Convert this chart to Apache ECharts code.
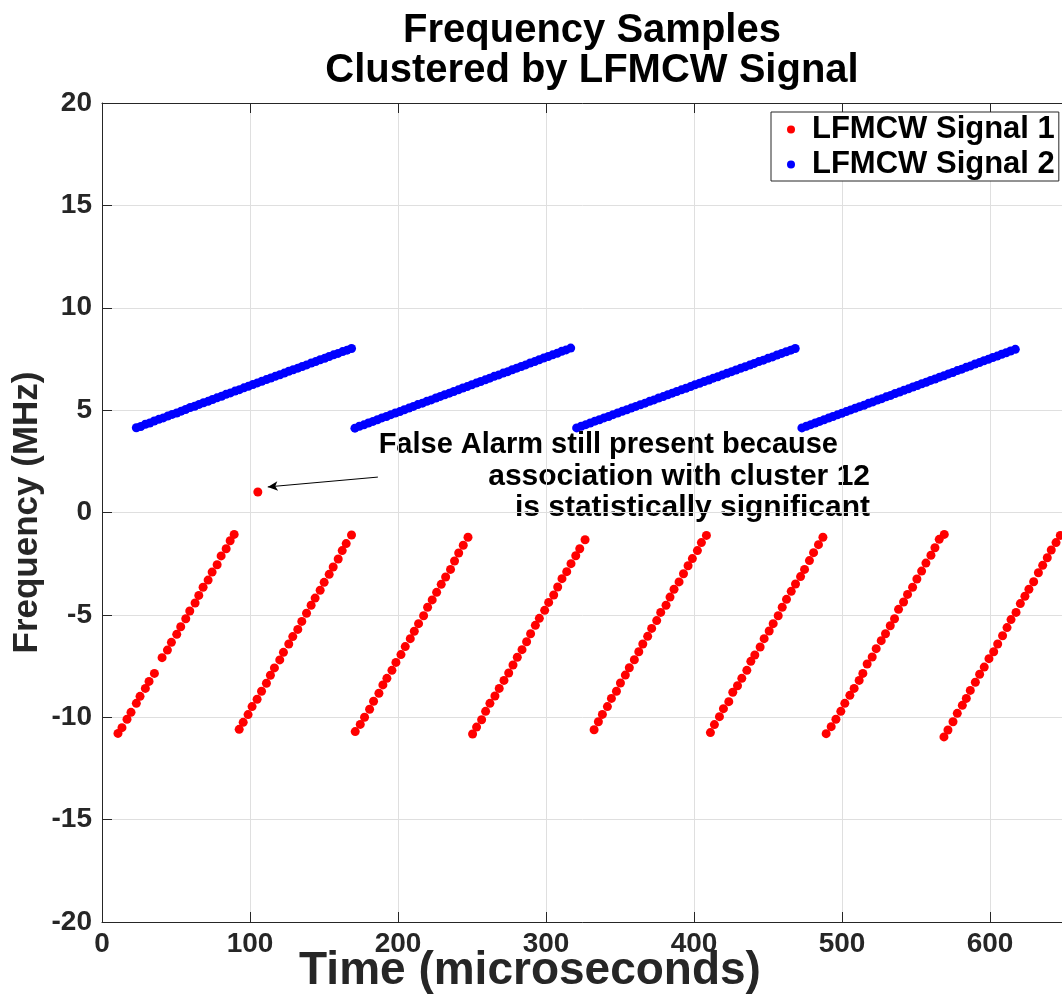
<!DOCTYPE html>
<html>
<head>
<meta charset="utf-8">
<script src="https://cdn.jsdelivr.net/npm/echarts@6/dist/echarts.min.js"></script>
<style>
  html, body { margin: 0; padding: 0; background: #fff; }
  #chart { width: 1062px; height: 1000px; }
</style>
</head>
<body>
<div id="chart"></div>
<script>
// ---------- DATA ----------
// LFMCW Signal 1 (red): time in microseconds, frequency in MHz
const sig1Time = [
  10.8,13.5,16.9,19.6,23.2,25.7,29.3,31.8,35.4,40.6,44.2,46.9,50.5,53.2,56.6,59.3,62.9,65.4,68.3,71.7,74.4,77.8,80.5,83.9,86.6,89.3,
  92.7,95.4,98.7,101.4,104.8,107.8,111.1,113.8,116.5,120.1,122.6,126.2,128.9,132.3,135.0,138.2,141.3,144.0,147.4,150.1,153.5,156.2,159.6,162.3,165.0,168.6,
  171.1,174.5,177.4,180.8,183.5,187.1,189.8,192.5,195.9,198.6,202.0,204.9,208.3,211.0,213.9,217.3,220.0,223.1,226.1,229.2,232.2,235.5,238.2,241.0,244.1,247.3,
  250.4,253.1,256.5,259.2,262.1,265.5,268.4,271.6,274.8,277.7,280.6,283.8,286.9,289.6,292.8,295.5,299.1,301.8,305.2,307.9,310.8,314.0,316.9,320.1,322.8,326.4,
  332.5,335.4,338.1,341.5,344.2,347.6,350.3,353.6,356.3,359.7,362.7,365.4,368.7,371.4,374.8,377.5,381.1,383.8,386.5,389.9,392.9,396.0,398.9,402.3,405.0,408.4,
  411.1,413.8,417.2,419.9,423.5,426.2,429.4,432.3,435.7,438.4,441.1,444.7,447.4,450.8,453.5,456.9,459.6,462.5,465.7,468.6,472.0,474.7,478.0,480.8,484.1,487.1,
  489.3,492.7,495.9,499.2,501.9,505.3,508.2,511.6,514.1,517.0,520.4,523.1,526.5,529.4,532.6,535.5,538.2,541.6,544.3,547.7,550.6,553.8,556.7,560.1,562.8,565.7,569.1,
  568.9,571.6,575.0,577.9,581.3,584.0,586.7,590.1,593.0,596.1,599.3,602.5,605.2,608.5,611.5,614.2,617.6,620.5,623.6,626.3,629.5,632.7,635.6,638.7,641.4,644.6,647.5,
  105.3
];
const sig1Freq = [
  -10.79,-10.51,-10.10,-9.76,-9.32,-8.98,-8.59,-8.25,-7.86,-7.09,-6.72,-6.34,-5.95,-5.58,-5.19,-4.81,-4.42,-4.05,-3.65,-3.30,-2.91,-2.55,-2.12,-1.77,-1.38,-1.07,
  -10.59,-10.25,-9.87,-9.48,-9.12,-8.73,-8.34,-7.95,-7.59,-7.20,-6.83,-6.42,-6.06,-5.71,-5.32,-4.92,-4.53,-4.18,-3.80,-3.41,-3.02,-2.66,-2.27,-1.86,-1.52,-1.10,
  -10.70,-10.35,-10.00,-9.61,-9.22,-8.83,-8.42,-8.10,-7.71,-7.32,-6.94,-6.55,-6.16,-5.80,-5.43,-5.04,-4.63,-4.27,-3.90,-3.51,-3.15,-2.78,-2.37,-1.98,-1.60,-1.21,
  -10.82,-10.48,-10.12,-9.71,-9.32,-8.96,-8.59,-8.20,-7.84,-7.45,-7.07,-6.70,-6.31,-5.92,-5.51,-5.17,-4.78,-4.39,-4.03,-3.64,-3.23,-2.89,-2.50,-2.11,-1.77,-1.33,
  -10.61,-10.22,-9.86,-9.48,-9.08,-8.73,-8.33,-7.94,-7.58,-7.19,-6.80,-6.42,-6.05,-5.66,-5.28,-4.88,-4.53,-4.13,-3.75,-3.39,-2.99,-2.60,-2.25,-1.86,-1.47,-1.12,
  -10.75,-10.36,-9.97,-9.58,-9.24,-8.78,-8.46,-8.10,-7.71,-7.27,-6.96,-6.57,-6.16,-5.79,-5.43,-5.04,-4.63,-4.24,-3.85,-3.49,-3.13,-2.78,-2.35,-1.96,-1.57,-1.21,
  -10.80,-10.46,-10.10,-9.71,-9.32,-8.93,-8.59,-8.20,-7.86,-7.40,-7.06,-6.65,-6.26,-5.92,-5.53,-5.19,-4.73,-4.37,-4.00,-3.65,-3.25,-2.86,-2.47,-2.09,-1.72,-1.31,-1.07,
  -10.96,-10.62,-10.22,-9.81,-9.42,-9.08,-8.69,-8.29,-7.90,-7.55,-7.14,-6.80,-6.42,-6.02,-5.62,-5.23,-4.88,-4.45,-4.09,-3.75,-3.38,-2.94,-2.58,-2.21,-1.83,-1.47,-1.12,
  1.00
];

// LFMCW Signal 2 (blue)
const sig2Time = [
  23.2,26.2,29.3,32.3,35.3,38.4,41.4,44.4,47.4,50.5,53.5,56.5,59.6,62.6,65.6,68.6,71.7,74.7,77.7,80.8,83.8,86.8,89.9,92.9,95.9,98.9,102.0,105.0,108.0,111.1,114.1,117.1,120.2,123.2,126.2,129.2,132.3,135.3,138.3,141.4,144.4,147.4,150.5,153.5,156.5,159.5,162.6,165.6,168.6,
  170.9,173.9,177.0,180.0,183.1,186.1,189.1,192.2,195.2,198.2,201.3,204.3,207.4,210.4,213.4,216.5,219.5,222.5,225.6,228.6,231.6,234.7,237.7,240.8,243.8,246.8,249.9,252.9,255.9,259.0,262.0,265.0,268.1,271.1,274.2,277.2,280.2,283.3,286.3,289.3,292.4,295.4,298.4,301.5,304.5,307.6,310.6,313.6,316.7,
  320.7,323.8,326.9,329.9,333.0,336.1,339.2,342.3,345.3,348.4,351.5,354.6,357.6,360.7,363.8,366.9,370.0,373.0,376.1,379.2,382.3,385.3,388.4,391.5,394.6,397.7,400.7,403.8,406.9,410.0,413.0,416.1,419.2,422.3,425.4,428.4,431.5,434.6,437.7,440.7,443.8,446.9,450.0,453.1,456.1,459.2,462.3,465.4,468.4,
  472.9,475.9,478.9,481.9,484.9,487.9,490.9,493.9,496.9,499.9,502.9,505.9,508.9,511.9,514.9,517.9,520.9,523.9,526.9,529.9,532.9,535.9,538.9,541.9,544.9,547.9,550.9,553.9,556.9,559.9,562.9,565.9,568.9,571.9,574.9,577.9,580.9,583.9,586.9,589.9,592.9,595.9,598.9,601.9,604.9,607.9,610.9,613.9,617.1
];
const sig2Freq = [
  4.14,4.20,4.31,4.37,4.47,4.55,4.62,4.71,4.79,4.86,4.95,5.03,5.13,5.19,5.28,5.36,5.43,5.52,5.60,5.68,5.77,5.84,5.93,6.00,6.09,6.16,6.25,6.33,6.41,6.49,6.57,6.65,6.73,6.81,6.90,6.97,7.05,7.13,7.21,7.30,7.37,7.46,7.53,7.62,7.70,7.77,7.86,7.93,8.01,
  4.12,4.21,4.28,4.37,4.45,4.53,4.62,4.69,4.78,4.86,4.93,5.02,5.10,5.18,5.27,5.34,5.43,5.50,5.59,5.67,5.75,5.83,5.91,5.99,6.08,6.15,6.24,6.32,6.40,6.48,6.56,6.65,6.72,6.81,6.88,6.97,7.05,7.13,7.21,7.30,7.37,7.46,7.54,7.62,7.70,7.78,7.87,7.94,8.03,
  4.13,4.21,4.29,4.37,4.46,4.53,4.62,4.69,4.78,4.86,4.94,5.02,5.10,5.18,5.26,5.34,5.43,5.50,5.59,5.66,5.75,5.83,5.91,5.99,6.07,6.15,6.24,6.31,6.40,6.47,6.56,6.63,6.72,6.80,6.88,6.96,7.04,7.12,7.20,7.28,7.37,7.44,7.53,7.60,7.69,7.77,7.85,7.93,8.01,
  4.13,4.21,4.29,4.37,4.45,4.53,4.61,4.69,4.77,4.85,4.93,5.01,5.09,5.17,5.24,5.33,5.40,5.49,5.56,5.65,5.72,5.81,5.88,5.97,6.04,6.13,6.20,6.29,6.36,6.45,6.52,6.61,6.68,6.77,6.84,6.93,7.00,7.09,7.16,7.25,7.32,7.41,7.48,7.57,7.64,7.73,7.80,7.89,7.97
];

const seriesNames = ['LFMCW Signal 1', 'LFMCW Signal 2'];
const titleLines = ['Frequency Samples', 'Clustered by LFMCW Signal'];
const xAxisTitle = 'Time (microseconds)';
const yAxisTitle = 'Frequency (MHz)';
const xRange = [0, 650];
const xStep = 100;
const yRange = [-20, 20];
const yStep = 5;
const noteLines = ['False Alarm still present because', 'association with cluster 12', 'is statistically significant'];
const arrowTail = [186.4, 1.73];
const arrowHead = [112.0, 1.25];

// ---------- CHART ----------
const FONT = '"Liberation Sans", Arial, Helvetica, sans-serif';
const AX = '#262626';
const toPairs = (xs, ys) => xs.map((x, i) => [x, ys[i]]);

const chart = echarts.init(document.getElementById('chart'), null, { renderer: 'canvas' });

const commonAxis = {
  type: 'value',
  axisLine: { show: true, onZero: false, lineStyle: { color: AX, width: 1 } },
  axisTick: { show: true, inside: true, length: 10, lineStyle: { color: AX, width: 1 } }
};

chart.setOption({
  animation: false,
  backgroundColor: '#fff',
  title: {
    text: titleLines.join('\n'),
    left: 587,
    top: 6,
    textAlign: 'center',
    textStyle: { fontFamily: FONT, fontSize: 40, fontWeight: 'bold', color: '#000', lineHeight: 40 }
  },
  legend: {
    orient: 'vertical',
    left: 771,
    top: 112,
    data: seriesNames,
    icon: 'circle',
    itemWidth: 8,
    itemHeight: 8,
    itemGap: 4,
    itemStyle: { borderWidth: 0 },
    padding: [2, 4, 1, 16],
    borderColor: AX,
    borderWidth: 1,
    backgroundColor: '#fff',
    textStyle: { fontFamily: FONT, fontSize: 31, fontWeight: 'bold', color: '#000', padding: [0, 0, 0, 12] }
  },
  grid: { left: 102, top: 103, width: 962, height: 819, containLabel: false, outerBoundsMode: 'none' },
  xAxis: [
    Object.assign({}, commonAxis, {
      position: 'bottom',
      min: xRange[0], max: xRange[1], interval: xStep,
      axisLabel: { show: true, showMaxLabel: false, margin: 8, fontFamily: FONT, fontSize: 28, fontWeight: 'bold', color: AX },
      splitLine: { show: true, lineStyle: { color: '#dfdfdf', width: 1 } },
      name: xAxisTitle,
      nameLocation: 'middle',
      nameGap: 26,
      nameMoveOverlap: false,
      nameTextStyle: { fontFamily: FONT, fontSize: 46, fontWeight: 'bold', color: AX, padding: [0, 106, 0, 0] }
    }),
    Object.assign({}, commonAxis, {
      position: 'top',
      min: xRange[0], max: xRange[1], interval: xStep,
      axisLabel: { show: false },
      splitLine: { show: false }
    })
  ],
  yAxis: [
    Object.assign({}, commonAxis, {
      position: 'left',
      min: yRange[0], max: yRange[1], interval: yStep,
      axisLabel: { show: true, margin: 10, fontFamily: FONT, fontSize: 28, fontWeight: 'bold', color: AX },
      splitLine: { show: true, lineStyle: { color: '#dfdfdf', width: 1 } },
      name: yAxisTitle,
      nameLocation: 'middle',
      nameGap: 57,
      nameMoveOverlap: false,
      nameTextStyle: { fontFamily: FONT, fontSize: 35, fontWeight: 'bold', color: AX }
    })
  ],
  series: [
    {
      name: seriesNames[0],
      type: 'scatter',
      symbol: 'circle',
      symbolSize: 9,
      itemStyle: { color: '#ff0000', opacity: 1 },
      data: toPairs(sig1Time, sig1Freq),
      markLine: {
        silent: true,
        animation: false,
        symbol: ['none', 'arrow'],
        symbolSize: 10,
        label: { show: false },
        lineStyle: { color: '#000', width: 1, type: 'solid' },
        emphasis: { disabled: true },
        data: [[
          { coord: arrowTail, symbol: 'none' },
          { coord: arrowHead, symbol: 'arrow', symbolSize: [7, 10] }
        ]]
      }
    },
    {
      name: seriesNames[1],
      type: 'scatter',
      symbol: 'circle',
      symbolSize: 9,
      itemStyle: { color: '#0000ff', opacity: 1 },
      data: toPairs(sig2Time, sig2Freq)
    }
  ],
  graphic: [
    { type: 'text', x: 838, y: 445, style: { text: noteLines[0], align: 'right', verticalAlign: 'middle', fontFamily: FONT, fontSize: 29, fontWeight: 'bold', fill: '#000' } },
    { type: 'text', x: 870, y: 477, style: { text: noteLines[1], align: 'right', verticalAlign: 'middle', fontFamily: FONT, fontSize: 30, fontWeight: 'bold', fill: '#000' } },
    { type: 'text', x: 870, y: 508, style: { text: noteLines[2], align: 'right', verticalAlign: 'middle', fontFamily: FONT, fontSize: 30, fontWeight: 'bold', fill: '#000' } }
  ]
});
</script>
</body>
</html>
